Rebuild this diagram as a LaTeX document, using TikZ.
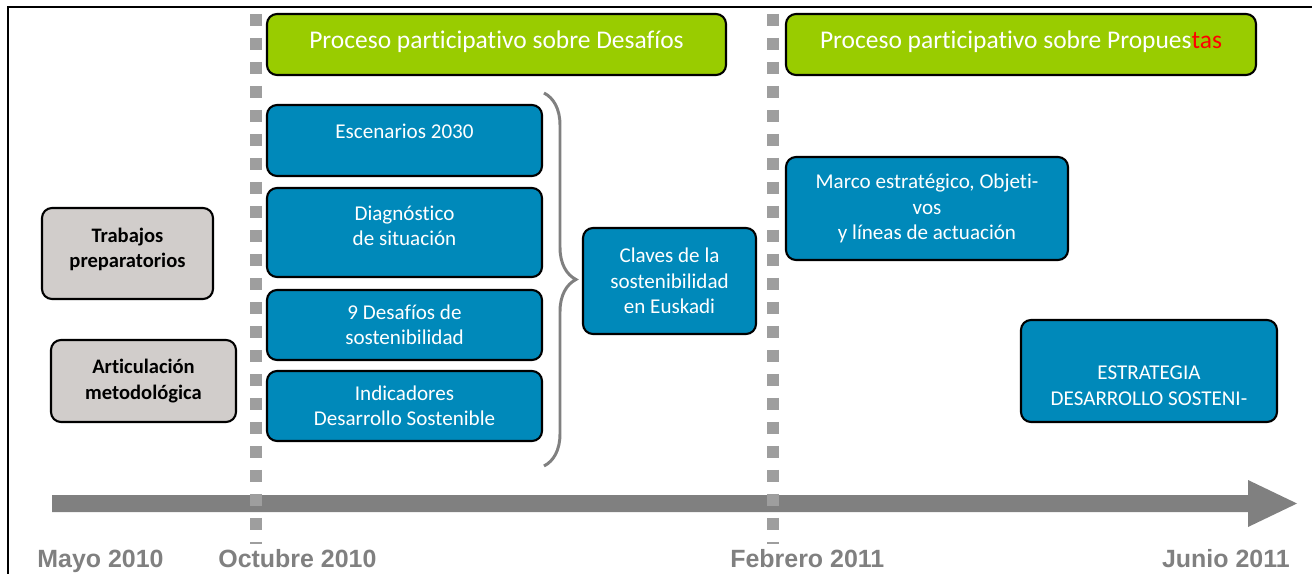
\documentclass[tikz,border=0pt]{standalone}
\usepackage{fontspec}
\setmainfont[Ligatures=NoCommon]{Carlito}
\newfontfamily\dateFont{Liberation Sans}
\usetikzlibrary{decorations.pathreplacing}
\definecolor{boxBlue}{HTML}{0089BA}
\definecolor{boxGreen}{HTML}{99CC00}
\definecolor{boxGrey}{HTML}{D1CDCB}
\definecolor{arrowGrey}{HTML}{808080}
\definecolor{dotGrey}{HTML}{9E9E9E}
\begin{document}
\begin{tikzpicture}[%%
  x=0.02cm,y=-0.02cm,%%
  boxStyle/.style={draw=black,line width=1.2pt,rounded corners=0.2cm,%%
    align=center,inner sep=0pt},%%
  blueBox/.style={boxStyle,fill=boxBlue,text=white,%%
    font=\fontsize{12}{14.5}\selectfont},%%
  greenBox/.style={boxStyle,fill=boxGreen,text=white,%%
    font=\fontsize{14.5}{17}\selectfont},%%
  greyBox/.style={boxStyle,fill=boxGrey,text=black,%%
    font=\fontsize{11.7}{14.5}\selectfont\bfseries},%%
  boxSize/.style 2 args={minimum width=#1*\px cm,minimum height=#2*\px cm},%%
  dotLine/.style={dotGrey,line width=0.24cm,dash pattern=on 0.24cm off 0.24cm},%%
  braceStyle/.style={arrowGrey,line width=1.7pt,%%
    decorate,decoration={brace,amplitude=0.64cm}},%%
  dateStyle/.style={text=arrowGrey,inner sep=0pt,%%
    font=\dateFont\fontsize{14.2}{16}\selectfont\bfseries}%%
]
%%
%%
\pgfmathsetmacro{\px}{0.02}   %% One pixel of the original, in cm.
\useasboundingbox (0,0) rectangle (1312,574);
%%
%% Frame.
\draw[line width=1.3pt] (8,574) -- (8,7) -- (1312,7);
%%
%% The time line.
\fill[arrowGrey] (52,495) -- (1248,495) -- (1248,480) -- (1297,503.5)
  -- (1248,527) -- (1248,512) -- (52,512) -- cycle;
\draw[dotLine] (256,14) -- (256,544);
\draw[dotLine] (773,14) -- (773,544);
%%
%% Dates under the time line.
\node[dateStyle,anchor=base west] (mayo) at (37,567) {Mayo 2010};
\node[dateStyle,anchor=base west] (octubre) at (218,567) {Octubre 2010};
\node[dateStyle,anchor=base west] (febrero) at (730,567) {Febrero 2011};
\node[dateStyle,anchor=base east] (junio) at (1290,567) {Junio 2011};
%%
%% Participation processes.
\node[greenBox,boxSize={459}{61}] (desafiosProc) at (496.5,44.5)
  {Proceso participativo sobre Desafíos\\[-12pt]\mbox{}};
\node[greenBox,boxSize={470}{61}] (propuestasProc) at (1021,44.5)
  {Proceso participativo sobre Propues\textcolor{red}{tas}\\[-12pt]\mbox{}};
%%
%% Preparatory work.
\node[greyBox,boxSize={171}{91}] (trabajos) at (127.5,253.5)
  {Trabajos\\preparatorios\\[-8pt]\mbox{}};
\node[greyBox,boxSize={185}{82}] (articulacion) at (143.5,381)
  {Articulación\\metodológica};
%%
%% First phase.
\node[blueBox,boxSize={275}{71}] (escenarios) at (404.5,140.5)
  {Escenarios 2030\\[-4.3pt]\mbox{}};
\node[blueBox,boxSize={275}{89}] (diagnostico) at (404.5,232.5)
  {Diagnóstico\\de situación\\[-7pt]\mbox{}};
\node[blueBox,boxSize={275}{70}] (desafios) at (404.5,325)
  {9 Desafíos de\\sostenibilidad};
\node[blueBox,boxSize={275}{70}] (indicadores) at (404.5,406)
  {Indicadores\\Desarrollo Sostenible};
\draw[braceStyle] (544,93) -- (544,466);
\node[blueBox,boxSize={173}{106}] (claves) at (669.5,281)
  {Claves de la\\sostenibilidad\\en Euskadi};
%%
%% Second phase.
\node[blueBox,boxSize={282}{103}] (marco) at (927,208.5)
  {Marco estratégico, Objeti-\\vos\\y líneas de actuación};
\node[blueBox,boxSize={256}{102}] (estrategia) at (1149,371)
  {\strut\\ESTRATEGIA\\DESARROLLO SOSTENI-};
\end{tikzpicture}
\end{document}
